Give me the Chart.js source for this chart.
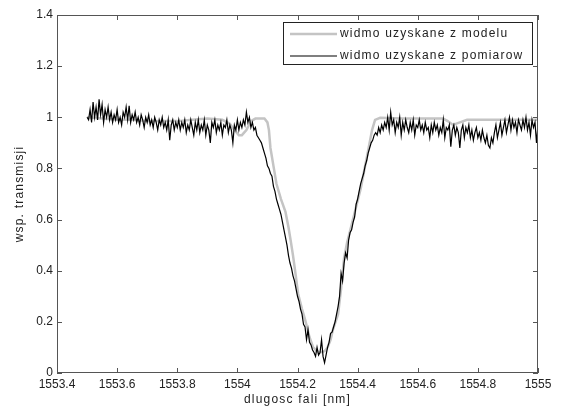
<!DOCTYPE html>
<html>
<head>
<meta charset="utf-8">
<script src="https://cdn.jsdelivr.net/npm/chart.js@4.4.1/dist/chart.umd.min.js"></script>
<style>
    html, body { margin: 0; padding: 0; background: #fff; }
    #wrap { width: 561px; height: 411px; }
</style>
</head>
<body>
<div id="wrap"><canvas id="chart" width="561" height="411"></canvas></div>
<script>
// axis ticks
const xTicks = [1553.4, 1553.6, 1553.8, 1554, 1554.2, 1554.4, 1554.6, 1554.8, 1555];
const xTickLabels = ['1553.4', '1553.6', '1553.8', '1554', '1554.2', '1554.4', '1554.6', '1554.8', '1555'];
const yTicks = [0, 0.2, 0.4, 0.6, 0.8, 1, 1.2, 1.4];
const yTickLabels = ['0', '0.2', '0.4', '0.6', '0.8', '1', '1.2', '1.4'];

// model spectrum (gray)
const modelWavelength = [
    1553.5, 1553.55, 1553.6, 1553.65, 1553.7, 1553.75, 1553.8, 1553.85, 1553.9, 1553.95,
    1553.975, 1553.99, 1554.005, 1554.015, 1554.03, 1554.045, 1554.06, 1554.09, 1554.1, 1554.105,
    1554.11, 1554.12, 1554.13, 1554.145, 1554.16, 1554.17, 1554.177, 1554.185, 1554.192, 1554.202,
    1554.215, 1554.225, 1554.24, 1554.252, 1554.265, 1554.275, 1554.29, 1554.3, 1554.31, 1554.318,
    1554.335, 1554.345, 1554.355, 1554.365, 1554.38, 1554.395, 1554.41, 1554.42, 1554.435, 1554.448,
    1554.458, 1554.475, 1554.55, 1554.62, 1554.684, 1554.7, 1554.717, 1554.74, 1554.764, 1554.85,
    1554.95, 1555
];
const modelTransmission = [
    1.0, 0.995, 0.99, 0.99, 0.985, 0.985, 0.985, 0.99, 0.995, 0.99,
    0.975, 0.95, 0.93, 0.93, 0.95, 0.985, 0.995, 0.995, 0.98, 0.95,
    0.88, 0.81, 0.74, 0.68, 0.63, 0.57, 0.52, 0.46, 0.40, 0.31,
    0.25, 0.21, 0.14, 0.10, 0.085, 0.08, 0.085, 0.10, 0.13, 0.17,
    0.23, 0.33, 0.45, 0.51, 0.58, 0.65, 0.72, 0.78, 0.87, 0.95,
    0.99, 0.998, 0.995, 0.995, 0.995, 0.985, 0.97, 0.98, 0.99, 0.99,
    0.99, 0.99
];

// measured spectrum (black), sampled every 0.005 nm from 1553.5 nm
const measStart = 1553.5;
const measStep = 0.005;
const measTransmission = [
    1.00, 0.99, 1.03, 0.98, 1.06, 1.00, 1.04, 0.99, 1.07, 1.01,   // 1553.50
    1.05, 0.98, 1.03, 1.00, 1.04, 0.99, 1.02, 0.98, 1.01, 0.99,   // 1553.55
    1.03, 0.98, 1.00, 0.97, 1.02, 1.00, 1.04, 0.99, 1.045, 0.98,  // 1553.60
    1.01, 0.99, 1.02, 0.98, 1.00, 0.97, 1.01, 0.99, 0.96, 1.00,   // 1553.65
    0.98, 1.01, 0.97, 0.99, 0.96, 1.00, 0.98, 0.95, 0.99, 0.97,   // 1553.70
    1.00, 0.96, 0.98, 0.95, 0.99, 0.91, 0.97, 0.99, 0.95, 0.98,   // 1553.75
    0.96, 0.99, 0.95, 0.98, 0.96, 0.99, 0.94, 0.97, 0.95, 0.99,   // 1553.80
    0.96, 0.93, 0.98, 0.95, 0.99, 0.94, 0.97, 0.95, 0.99, 0.93,   // 1553.85
    0.97, 0.95, 0.90, 0.98, 0.96, 0.99, 0.94, 0.97, 0.95, 0.98,   // 1553.90
    0.93, 0.97, 0.96, 0.99, 0.94, 0.97, 0.95, 0.90, 0.97, 0.95,   // 1553.95
    0.99, 0.95, 0.98, 0.96, 0.99, 0.97, 1.02, 0.98, 1.00, 0.96,   // 1554.00
    0.98, 0.95, 0.96, 0.93, 0.92, 0.91, 0.90, 0.88, 0.86, 0.84,   // 1554.05
    0.81, 0.80, 0.78, 0.77, 0.73, 0.71, 0.68, 0.66, 0.64, 0.62,   // 1554.10
    0.59, 0.56, 0.53, 0.50, 0.46, 0.43, 0.41, 0.38, 0.36, 0.33,   // 1554.15
    0.30, 0.28, 0.25, 0.23, 0.19, 0.18, 0.13, 0.17, 0.12, 0.11,   // 1554.20
    0.09, 0.08, 0.065, 0.10, 0.07, 0.08, 0.13, 0.065, 0.04, 0.07, // 1554.25
    0.10, 0.12, 0.155, 0.16, 0.18, 0.20, 0.23, 0.26, 0.30, 0.39,  // 1554.30
    0.36, 0.43, 0.47, 0.45, 0.52, 0.55, 0.56, 0.59, 0.61, 0.66,   // 1554.35
    0.68, 0.71, 0.74, 0.76, 0.78, 0.81, 0.83, 0.86, 0.88, 0.90,   // 1554.40
    0.91, 0.93, 0.94, 0.93, 0.96, 0.94, 0.97, 0.95, 0.98, 0.96,   // 1554.45
    1.00, 0.95, 1.02, 0.97, 0.99, 0.94, 0.98, 0.96, 1.00, 0.93,   // 1554.50
    0.98, 0.95, 0.99, 0.96, 0.94, 0.98, 0.95, 0.99, 0.93, 0.97,   // 1554.55
    0.96, 0.99, 0.95, 0.97, 0.94, 0.98, 0.95, 0.96, 0.92, 0.97,   // 1554.60
    0.94, 0.98, 0.95, 0.97, 0.93, 0.96, 0.94, 0.99, 0.92, 0.96,   // 1554.65
    0.95, 0.97, 0.885, 0.95, 0.97, 0.93, 0.96, 0.94, 0.88, 0.95,  // 1554.70
    0.97, 0.92, 0.96, 0.94, 0.97, 0.92, 0.95, 0.91, 0.94, 0.96,   // 1554.75
    0.92, 0.94, 0.91, 0.95, 0.92, 0.90, 0.93, 0.89, 0.88, 0.92,   // 1554.80
    0.90, 0.94, 0.97, 0.92, 0.95, 0.98, 0.93, 0.96, 0.99, 0.94,   // 1554.85
    0.97, 1.00, 0.95, 0.99, 0.96, 0.98, 0.94, 0.99, 0.97, 0.95,   // 1554.90
    0.99, 0.96, 1.00, 0.95, 0.98, 0.93, 0.99, 0.96, 0.98, 0.90,   // 1554.95
    0.97                                                          // 1555.00
];

const legendLabels = ['widmo uzyskane z modelu', 'widmo uzyskane z pomiarow'];
const xTitle = 'dlugosc fali [nm]';
const yTitle = 'wsp. transmisji';

const FONT_FAMILY = '"Liberation Sans", Arial, sans-serif';
const FONT = '12px ' + FONT_FAMILY;
const SPACING = '1.2px';
const TEXT_COLOR = '#222';
const AXIS_COLOR = '#555';

const modelPoints = modelWavelength.map((x, i) => ({ x: x, y: modelTransmission[i] }));
const measPoints = measTransmission.map((y, i) => ({ x: measStart + i * measStep, y: y }));

// box, inward ticks on all four sides, titles and legend (MATLAB look)
const framePlugin = {
    id: 'frame',
    beforeInit(chart) {
        chart.ctx.letterSpacing = SPACING;
    },
    afterDraw(chart) {
        const ctx = chart.ctx;
        const area = chart.chartArea;
        const xs = chart.scales.x;
        const ys = chart.scales.y;
        const tick = 5;

        ctx.save();
        ctx.letterSpacing = SPACING;
        ctx.strokeStyle = AXIS_COLOR;
        ctx.lineWidth = 1;
        ctx.strokeRect(area.left + 0.5, area.top + 0.5, area.right - area.left - 1, area.bottom - area.top - 1);

        ctx.beginPath();
        xTicks.forEach(v => {
            const px = Math.round(xs.getPixelForValue(v)) + 0.5;
            ctx.moveTo(px, area.bottom);
            ctx.lineTo(px, area.bottom - tick);
            ctx.moveTo(px, area.top);
            ctx.lineTo(px, area.top + tick);
        });
        yTicks.forEach(v => {
            const py = Math.round(ys.getPixelForValue(v)) + 0.5;
            ctx.moveTo(area.left, py);
            ctx.lineTo(area.left + tick, py);
            ctx.moveTo(area.right, py);
            ctx.lineTo(area.right - tick, py);
        });
        ctx.stroke();

        // axis titles
        ctx.fillStyle = TEXT_COLOR;
        ctx.font = FONT;
        ctx.textAlign = 'center';
        ctx.textBaseline = 'middle';
        ctx.fillText(xTitle, (area.left + area.right) / 2, 400);
        ctx.save();
        ctx.translate(20, (area.top + area.bottom) / 2);
        ctx.rotate(-Math.PI / 2);
        ctx.fillText(yTitle, 0, 0);
        ctx.restore();

        // legend
        const lx = 283, ly = 22, lw = 249, lh = 42;
        ctx.fillStyle = '#fff';
        ctx.fillRect(lx, ly, lw, lh);
        ctx.strokeStyle = '#222';
        ctx.strokeRect(lx + 0.5, ly + 0.5, lw, lh);
        const rows = [34, 56];
        chart.data.datasets.forEach((ds, i) => {
            ctx.strokeStyle = ds.borderColor;
            ctx.lineWidth = ds.borderWidth;
            ctx.beginPath();
            ctx.moveTo(lx + 7, rows[i]);
            ctx.lineTo(lx + 54, rows[i]);
            ctx.stroke();
            ctx.fillStyle = TEXT_COLOR;
            ctx.textAlign = 'left';
            ctx.fillText(legendLabels[i], lx + 57, rows[i]);
        });
        ctx.restore();
    }
};

new Chart(document.getElementById('chart'), {
    type: 'line',
    data: {
        datasets: [{
            label: legendLabels[0],
            data: modelPoints,
            borderColor: '#c4c4c4',
            borderWidth: 2.5,
            pointRadius: 0,
            tension: 0,
            order: 1
        }, {
            label: legendLabels[1],
            data: measPoints,
            borderColor: '#000',
            borderWidth: 1.2,
            pointRadius: 0,
            tension: 0,
            order: 0
        }]
    },
    options: {
        responsive: false,
        animation: false,
        events: [],
        layout: {
            padding: { left: 0, right: 23, top: 15, bottom: 0 }
        },
        plugins: {
            legend: { display: false },
            tooltip: { enabled: false }
        },
        scales: {
            x: {
                type: 'linear',
                min: 1553.4,
                max: 1555,
                afterBuildTicks: scale => {
                    scale.ticks = xTicks.map(v => ({ value: v }));
                },
                afterFit: scale => {
                    scale.height = 38;
                },
                grid: { display: false, drawTicks: false },
                border: { display: false },
                ticks: {
                    padding: 4,
                    color: TEXT_COLOR,
                    font: { family: FONT_FAMILY, size: 12 },
                    maxRotation: 0,
                    autoSkip: false,
                    callback: (value) => xTickLabels[xTicks.indexOf(value)]
                }
            },
            y: {
                type: 'linear',
                min: 0,
                max: 1.4,
                afterBuildTicks: scale => {
                    scale.ticks = yTicks.map(v => ({ value: v }));
                },
                afterFit: scale => {
                    scale.width = 57;
                },
                grid: { display: false, drawTicks: false },
                border: { display: false },
                ticks: {
                    padding: 4,
                    color: TEXT_COLOR,
                    font: { family: FONT_FAMILY, size: 12 },
                    autoSkip: false,
                    callback: (value) => yTickLabels[yTicks.indexOf(value)]
                }
            }
        }
    },
    plugins: [framePlugin]
});
</script>
</body>
</html>
